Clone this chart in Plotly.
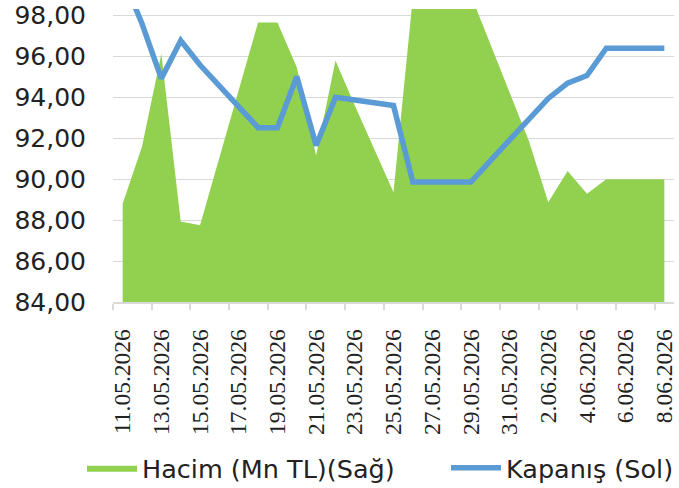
import plotly.graph_objects as go

dates = ["11.05.2026", "12.05.2026", "13.05.2026", "14.05.2026", "15.05.2026",
         "16.05.2026", "17.05.2026", "18.05.2026", "19.05.2026", "20.05.2026",
         "21.05.2026", "22.05.2026", "23.05.2026", "24.05.2026", "25.05.2026",
         "26.05.2026", "27.05.2026", "28.05.2026", "29.05.2026", "30.05.2026",
         "31.05.2026", "1.06.2026", "2.06.2026", "3.06.2026", "4.06.2026",
         "5.06.2026", "6.06.2026", "7.06.2026", "8.06.2026"]

close_price = [99.9, 97.6, 94.92, 96.78, 95.58, 94.56, 93.54, 92.52, 92.52, 95.02,
               91.65, 94.0, 93.87, 93.73, 93.6, 89.86, 89.86, 89.86, 89.86, 90.9,
               91.95, 92.95, 93.95, 94.7, 95.07, 96.4, 96.4, 96.4, 96.4]

volume = [4.80, 7.6, 12.13, 3.94, 3.75, 7.05, 10.35, 13.66, 13.66, 11.47,
          7.16, 11.8, 9.6, 7.45, 5.37, 14.9, 16.0, 16.0, 15.0, 12.62,
          10.24, 7.87, 4.88, 6.40, 5.29, 6.0, 6.0, 6.0, 6.0]

label_idx = list(range(0, len(dates), 2))
label_text = [dates[i] for i in label_idx]
boundary_ticks = [i - 0.5 for i in label_idx]

xs = list(range(len(dates)))
FONT = "DejaVu Sans"
W, H = 679, 488
ML, MR, MT, MB = 113, 5, 8.5, 186.3
PW, PH = W - ML - MR, H - MT - MB


def px_x(x):
    return (x - ML) / PW


def px_y(y):
    return (H - MB - y) / PH


fig = go.Figure()
fig.add_trace(go.Scatter(
    x=xs, y=volume, name="Hacim (Mn TL)(Sağ)", mode="lines",
    fill="tozeroy", fillcolor="#92d050", line=dict(width=0, color="#92d050"),
    yaxis="y", hoverinfo="skip", legend="legend"))
fig.add_trace(go.Scatter(
    x=xs, y=close_price, name="Kapanış (Sol)", mode="lines",
    line=dict(width=5.5, color="#5b9bd5"), yaxis="y2", legend="legend2"))

legend_common = dict(orientation="h", yanchor="middle", xanchor="left",
                     font=dict(family=FONT, size=25.5, color="#222222"),
                     itemwidth=50, bgcolor="rgba(0,0,0,0)", borderwidth=0)

fig.update_layout(
    width=W, height=H,
    margin=dict(l=ML, r=MR, t=MT, b=MB, autoexpand=False),
    paper_bgcolor="white", plot_bgcolor="white",
    separators=",.",
    font=dict(family=FONT, size=25, color="#222222"),
    showlegend=True,
    legend=dict(x=px_x(82), y=px_y(468), **legend_common),
    legend2=dict(x=px_x(446), y=px_y(468), **legend_common),
    xaxis=dict(range=[-0.5, 28.5], tickmode="array", tickvals=label_idx, ticktext=label_text,
               tickangle=-90, ticks="", showgrid=False, zeroline=False,
               showline=True, linecolor="#d9d9d9", linewidth=1.5,
               tickfont=dict(family="Liberation Sans Narrow", size=23.5, color="#222222"),
               ticklabelstandoff=16,
               minor=dict(tickmode="array", tickvals=boundary_ticks, ticks="outside",
                          ticklen=6, tickcolor="#d9d9d9", tickwidth=1.5, showgrid=False)),
    yaxis=dict(range=[0, 14.32], visible=False, showgrid=False, zeroline=False),
    yaxis2=dict(range=[84, 98.32], overlaying="y", side="left", tickmode="array",
                tickvals=[84, 86, 88, 90, 92, 94, 96, 98], tickformat=".2f",
                showgrid=True, gridcolor="#d9d9d9", gridwidth=1.3, zeroline=False,
                showline=False, ticks="", ticklabelstandoff=26,
                tickfont=dict(family=FONT, size=25, color="#222222")),
)

fig.write_html("out.html", config={"displayModeBar": False},
               post_script="document.body.style.margin='0';document.body.style.padding='0';")
